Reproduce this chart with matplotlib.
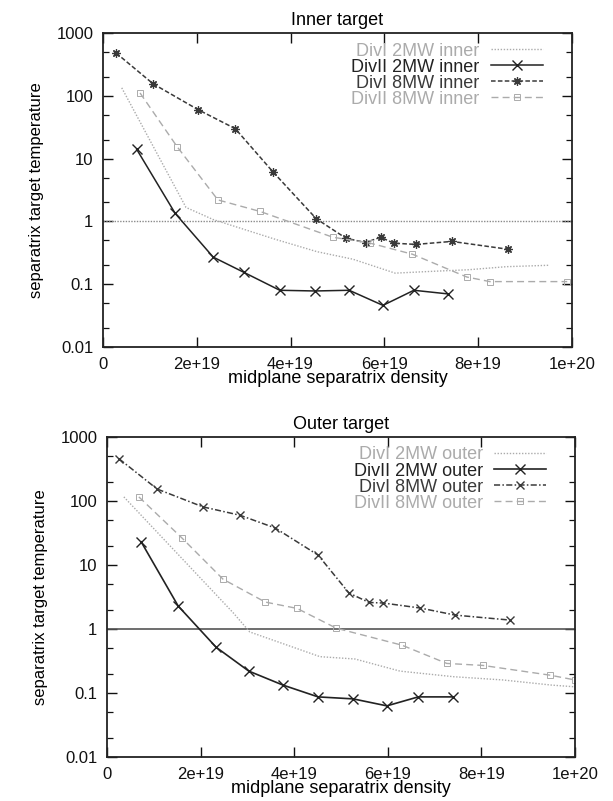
import matplotlib
matplotlib.use("Agg")
import matplotlib.pyplot as plt
from matplotlib.ticker import FixedLocator, NullFormatter

plt.rcParams['font.family'] = ['Liberation Sans', 'DejaVu Sans']

# ---------- inner target ----------
in_d1_2mw_x = [0.40e19, 1.77e19, 2.35e19, 3.67e19, 4.56e19, 5.33e19, 6.23e19, 7.0e19, 7.8e19, 8.6e19, 9.5e19]
in_d1_2mw_y = [134, 1.67, 1.07, 0.52, 0.33, 0.25, 0.15, 0.16, 0.17, 0.19, 0.20]

in_d2_2mw_x = [0.72e19, 1.54e19, 2.35e19, 3.0e19, 3.77e19, 4.52e19, 5.25e19, 5.97e19, 6.63e19, 7.36e19]
in_d2_2mw_y = [14, 1.34, 0.27, 0.155, 0.08, 0.078, 0.08, 0.046, 0.08, 0.07]

in_d1_8mw_x = [0.28e19, 1.07e19, 2.03e19, 2.82e19, 3.62e19, 4.55e19, 5.18e19, 5.6e19, 5.92e19, 6.2e19, 6.67e19, 7.44e19, 8.64e19]
in_d1_8mw_y = [480, 155, 60, 30, 6.2, 1.1, 0.54, 0.46, 0.56, 0.45, 0.43, 0.48, 0.36]

in_d2_8mw_x = [0.79e19, 1.58e19, 2.45e19, 3.35e19, 4.9e19, 5.7e19, 6.6e19, 7.76e19, 8.25e19, 9.9e19]
in_d2_8mw_y = [111, 15.5, 2.2, 1.44, 0.56, 0.45, 0.3, 0.13, 0.11, 0.11]

# ---------- outer target ----------
out_d1_2mw_x = [0.36e19, 2.7e19, 3.05e19, 4.55e19, 5.3e19, 6.26e19, 7.4e19, 8.46e19, 9.5e19, 1.0e20]
out_d1_2mw_y = [116, 1.78, 0.9, 0.37, 0.34, 0.22, 0.18, 0.16, 0.133, 0.125]

out_d2_2mw_x = [0.73e19, 1.52e19, 2.33e19, 3.03e19, 3.76e19, 4.51e19, 5.26e19, 5.98e19, 6.65e19, 7.39e19]
out_d2_2mw_y = [23, 2.29, 0.52, 0.22, 0.133, 0.087, 0.081, 0.063, 0.087, 0.087]

out_d1_8mw_x = [0.26e19, 1.07e19, 2.05e19, 2.84e19, 3.59e19, 4.51e19, 5.17e19, 5.6e19, 5.9e19, 6.69e19, 7.44e19, 8.61e19]
out_d1_8mw_y = [455, 154, 81, 60, 38, 14.3, 3.65, 2.6, 2.55, 2.13, 1.65, 1.38]

out_d2_8mw_x = [0.68e19, 1.6e19, 2.48e19, 3.38e19, 4.06e19, 4.9e19, 6.3e19, 7.26e19, 8.03e19, 9.47e19, 1.0e20]
out_d2_8mw_y = [116, 26.5, 6.0, 2.64, 2.1, 1.03, 0.56, 0.29, 0.27, 0.19, 0.16]

xticks = [0, 2e19, 4e19, 6e19, 8e19, 1e20]
xtick_labels = ["0", "2e+19", "4e+19", "6e+19", "8e+19", "1e+20"]
yticks = [0.01, 0.1, 1, 10, 100, 1000]
ytick_labels = ["0.01", "0.1", "1", "10", "100", "1000"]
yminor = [m * 10.0 ** e for e in range(-2, 3) for m in (2, 5)]

DARK = "#222222"
MID = "#3a3a3a"
LIGHT = "#ababab"

fig = plt.figure(figsize=(6.13, 8.01), dpi=100)
ax1 = fig.add_axes([0.168, 0.5668, 0.765, 0.392])
ax2 = fig.add_axes([0.1746, 0.0549, 0.7634, 0.3995])


def style(ax, title):
    ax.set_yscale("log")
    ax.set_xlim(0, 1e20)
    ax.set_ylim(0.01, 1000)
    ax.xaxis.set_major_locator(FixedLocator(xticks))
    ax.set_xticklabels(xtick_labels)
    ax.yaxis.set_major_locator(FixedLocator(yticks))
    ax.set_yticklabels(ytick_labels)
    ax.yaxis.set_minor_locator(FixedLocator(yminor))
    ax.yaxis.set_minor_formatter(NullFormatter())
    ax.tick_params(which="both", direction="in", top=True, right=True,
                   labelsize=12, colors="#111", pad=7)
    ax.tick_params(which="major", length=7, width=1)
    ax.tick_params(which="minor", length=4, width=0.9)
    for s in ax.spines.values():
        s.set_linewidth(1.3)
        s.set_color("#222")
    ax.set_title(title, fontsize=13, pad=6)
    ax.set_xlabel("midplane separatrix density", fontsize=13, labelpad=-1)
    ax.set_ylabel("separatrix target temperature", fontsize=12, labelpad=9)


# inner
ax1.axhline(1, color="#8a8a8a", lw=1.0, ls=(0, (1, 1)))
ax1.plot(in_d1_2mw_x, in_d1_2mw_y, color=LIGHT, lw=1.0, ls=(0, (1, 1.2)),
         label="DivI 2MW inner")
ax1.plot(in_d2_2mw_x, in_d2_2mw_y, color=DARK, lw=1.1, ls="-", marker="x", ms=7,
         mew=1.0, label="DivII 2MW inner")
ax1.plot(in_d1_8mw_x, in_d1_8mw_y, color=MID, lw=1.1, ls=(0, (3, 1.5)), marker=(8, 2, 0),
         ms=6, mew=0.9, label="DivI 8MW inner")
ax1.plot(in_d2_8mw_x, in_d2_8mw_y, color=LIGHT, lw=1.0, ls=(0, (5, 3)), marker="s", ms=5,
         mfc="none", mew=0.7, label="DivII 8MW inner")
style(ax1, "Inner target")

# outer
ax2.axhline(1, color="#555555", lw=1.2, ls="-")
ax2.plot(out_d1_2mw_x, out_d1_2mw_y, color=LIGHT, lw=1.0, ls=(0, (1, 1.2)),
         label="DivI 2MW outer")
ax2.plot(out_d2_2mw_x, out_d2_2mw_y, color=DARK, lw=1.2, ls="-", marker="x", ms=7,
         mew=1.0, label="DivII 2MW outer")
ax2.plot(out_d1_8mw_x, out_d1_8mw_y, color=MID, lw=1.1, ls=(0, (4, 1.5, 1, 1.5)), marker="x",
         ms=6, mew=1.0, label="DivI 8MW outer")
ax2.plot(out_d2_8mw_x, out_d2_8mw_y, color=LIGHT, lw=1.0, ls=(0, (5, 3)), marker="s", ms=5,
         mfc="none", mew=0.7, label="DivII 8MW outer")
style(ax2, "Outer target")

for ax in (ax1, ax2):
    ax.legend(loc="upper right", frameon=False, markerfirst=False, fontsize=13,
              handlelength=2.9, handletextpad=0.6, labelspacing=-0.05,
              borderaxespad=0.3, bbox_to_anchor=(0.965, 1.01), labelcolor="linecolor")

fig.savefig("out.png", dpi=100, facecolor="white")
